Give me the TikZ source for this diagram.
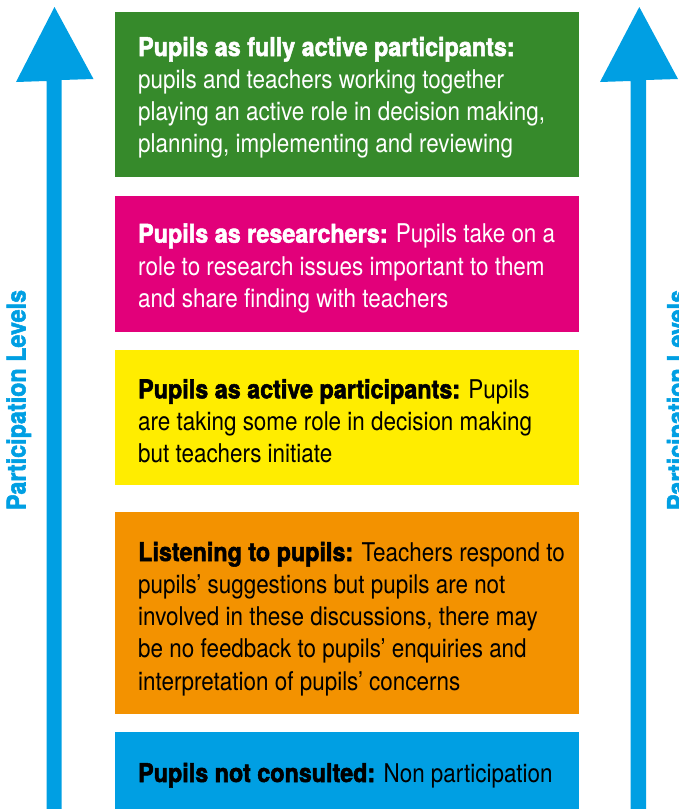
\documentclass[tikz,border=0pt]{standalone}
\usepackage{fontspec}
\setmainfont{TeX Gyre Heros}[FakeStretch=0.87, BoldFeatures={FakeStretch=0.905, FakeBold=2}]
\definecolor{cgreen}{RGB}{54,138,43}
\definecolor{cmagenta}{RGB}{226,0,122}
\definecolor{cyellow}{RGB}{255,237,0}
\definecolor{corange}{RGB}{243,146,0}
\definecolor{cblue}{RGB}{0,159,227}
\newcommand{\boxtext}[1]{\parbox[t]{440pt}{\raggedright\fontsize{25.8}{32.3}\selectfont #1}}
\begin{document}
\begin{tikzpicture}[x=1pt,y=1pt,
  levelbox/.style={fill=#1, draw=none},
  boxlabel/.style={anchor=base west, inner sep=0pt},
  sidelabel/.style={anchor=base, inner sep=0pt, rotate=90, text=cblue,
    font=\fontsize{25.8}{30}\selectfont\bfseries},
  uparrow/.style={fill=cblue}]
\useasboundingbox (0,0) rectangle (678,-809);
% boxes
\fill[levelbox=cgreen]   (115,-12)  rectangle (579,-177);
\fill[levelbox=cmagenta] (115,-196) rectangle (579,-331.5);
\fill[levelbox=cyellow]  (115,-350.3) rectangle (579,-485.3);
\fill[levelbox=corange]  (115,-512) rectangle (579,-714);
\fill[levelbox=cblue]    (115,-732) rectangle (579,-812);
% texts
\node[boxlabel, text=white] (t1) at (138,-56)
  {\boxtext{\textbf{Pupils as fully active participants:}\\
  pupils and teachers working together\\
  playing an active role in decision making,\\
  planning, implementing and reviewing}};
\node[boxlabel, text=white] (t2) at (138,-242.7)
  {\boxtext{\textbf{Pupils as researchers:} Pupils take on a\\
  role to research issues important to them\\
  and share finding with teachers}};
\node[boxlabel, text=black] (t3) at (138,-398.3)
  {\boxtext{\textbf{Pupils as active participants:} Pupils\\
  are taking some role in decision making\\
  but teachers initiate}};
\node[boxlabel, text=black] (t4) at (138,-561)
  {\boxtext{\textbf{Listening to pupils:} Teachers respond to\\
  pupils’ suggestions but pupils are not\\
  involved in these discussions, there may\\
  be no feedback to pupils’ enquiries and\\
  interpretation of pupils’ concerns}};
\node[boxlabel, text=black] (t5) at (138,-782)
  {\boxtext{\textbf{Pupils not consulted:} Non participation}};
% arrows
\fill[uparrow] (46.5,-812) -- (46.5,-81) -- (16,-82) -- (54.5,-7) -- (93.5,-79) -- (61.5,-80) -- (61.5,-812) -- cycle;
\fill[uparrow] (630.5,-812) -- (630.5,-81) -- (600,-82) -- (639.3,-7) -- (678,-79) -- (646,-80) -- (646,-812) -- cycle;
% side labels
\node[sidelabel] (l1) at (25.5,-400) {Participation Levels};
\node[sidelabel] (l2) at (686,-400) {Participation Levels};
\end{tikzpicture}
\end{document}
